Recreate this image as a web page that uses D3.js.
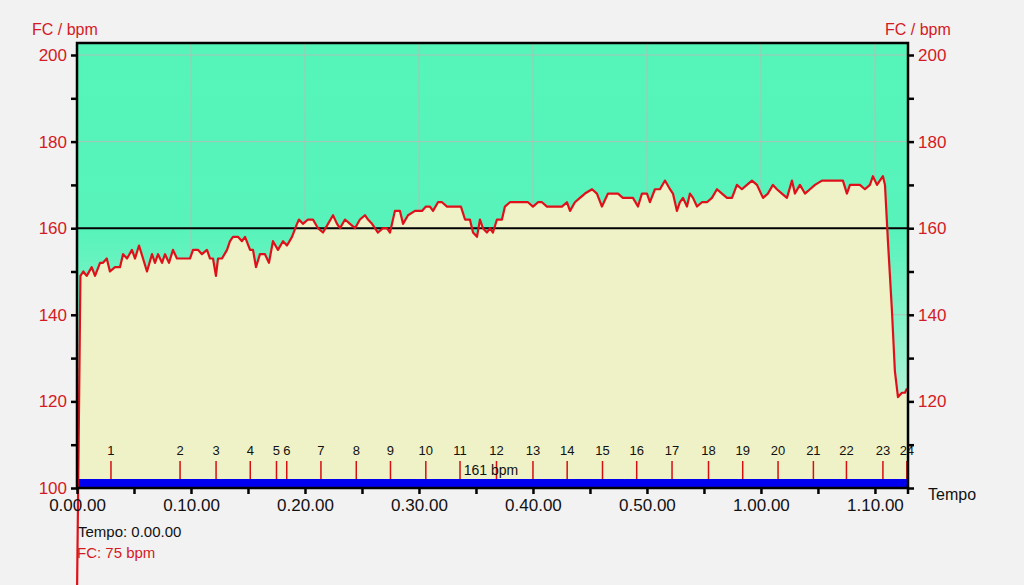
<!DOCTYPE html>
<html>
<head>
<meta charset="utf-8">
<script src="https://cdn.jsdelivr.net/npm/d3@7"></script>
<style>
  body { margin: 0; background: #f2f2f2; }
  svg text { font-family: "Liberation Sans", Arial, sans-serif; }
</style>
</head>
<body>
<div id="chart"></div>
<script>
// heart rate samples: time in minutes, bpm
var timeMin = [0, 0.3, 0.55, 0.85, 1.29, 1.58, 2.02, 2.28, 2.61, 2.89, 3.33, 3.77, 4.04, 4.39, 4.82, 5.09, 5.44, 5.79, 6.14, 6.58,
  6.84, 7.11, 7.46, 7.72, 8.07, 8.42, 8.77, 9.04, 9.47, 9.91, 10.18, 10.61, 10.96, 11.40, 11.67, 11.93, 12.19, 12.37, 12.72, 13.16,
  13.42, 13.68, 14.12, 14.47, 14.74, 15.18, 15.44, 15.70, 16.05, 16.49, 16.84, 17.19, 17.63, 18.07, 18.42, 18.86, 19.30, 19.47, 19.82, 20.26,
  20.70, 21.14, 21.58, 22.02, 22.46, 22.81, 23.07, 23.51, 23.95, 24.39, 24.82, 25.26, 25.53, 25.88, 26.14, 26.40, 26.84, 27.19, 27.46, 27.89,
  28.33, 28.60, 29.04, 29.65, 30.26, 30.61, 30.96, 31.23, 31.67, 32.02, 32.46, 32.89, 33.16, 33.68, 34.04, 34.47, 34.74, 35.09, 35.35, 35.61,
  35.96, 36.23, 36.49, 36.84, 37.28, 37.54, 37.98, 38.68, 39.56, 40.00, 40.44, 40.79, 41.23, 41.67, 42.11, 42.54, 42.98, 43.25, 43.68, 44.12,
  44.56, 45.18, 45.61, 46.05, 46.58, 47.46, 47.89, 48.25, 48.77, 49.21, 49.56, 50.00, 50.26, 50.70, 51.14, 51.58, 52.02, 52.28, 52.63, 52.89,
  53.16, 53.51, 53.77, 54.04, 54.39, 54.82, 55.26, 55.70, 56.14, 56.58, 57.02, 57.46, 57.89, 58.33, 58.77, 59.21, 59.65, 60.18, 60.61, 61.05,
  61.40, 61.84, 62.28, 62.72, 62.98, 63.42, 63.86, 64.30, 64.74, 65.35, 65.88, 66.67, 67.19, 67.54, 67.81, 68.25, 68.68, 69.12, 69.56, 69.82,
  70.18, 70.70, 70.88, 71.14, 71.49, 71.75, 72.02, 72.37, 72.63, 72.81];
var hrBpm = [75, 149, 150, 149, 151, 149, 152, 152, 153, 150, 151, 151, 154, 153, 155, 153, 156, 153, 150, 154,
  152, 154, 152, 154, 152, 155, 153, 153, 153, 153, 155, 155, 154, 155, 153, 153, 149, 153, 153, 155,
  157, 158, 158, 157, 158, 155, 155, 151, 154, 154, 152, 157, 155, 157, 156, 158, 161, 162, 161, 162,
  162, 160, 159, 161, 163, 161, 160, 162, 161, 160, 162, 163, 162, 161, 160, 159, 160, 160, 159, 164,
  164, 161, 163, 164, 164, 165, 165, 164, 166, 166, 165, 165, 165, 165, 162, 162, 159, 158, 162, 160,
  159, 160, 159, 162, 162, 165, 166, 166, 166, 165, 166, 166, 165, 165, 165, 165, 166, 164, 166, 167,
  168, 169, 168, 165, 168, 168, 167, 167, 167, 165, 168, 168, 166, 169, 169, 171, 169, 168, 164, 166,
  167, 165, 168, 167, 165, 166, 166, 167, 169, 168, 167, 167, 170, 169, 170, 171, 170, 167, 168, 170,
  169, 168, 167, 171, 168, 170, 168, 169, 170, 171, 171, 171, 171, 168, 170, 170, 170, 169, 170, 172,
  170, 172, 170, 157, 141, 127, 121, 122, 122, 123];

// laps (minutes)
var lapNames = ["1","2","3","4","5","6","7","8","9","10","11","12","13","14","15","16","17","18","19","20","21","22","23","24"];
var lapTimes = [2.98, 9.04, 12.2, 15.2, 17.5, 18.4, 21.4, 24.5, 27.5, 30.6, 33.6, 36.8, 40.0, 43.0, 46.1, 49.1, 52.2, 55.4, 58.4, 61.5, 64.6, 67.5, 70.7, 72.8];

var totalMin = 72.9;
var refLine = 160;
var avgLabel = "161 bpm";
var yTicks = [100, 120, 140, 160, 180, 200];

var data = timeMin.map(function(t, i) { return {t: t, hr: hrBpm[i]}; });

var W = 1024, H = 585;
var pLeft = 77, pRight = 908, pTop = 43, pBottom = 488;

var svg = d3.select("#chart").append("svg")
    .attr("width", W)
    .attr("height", H);

var x = d3.scaleLinear().domain([0, totalMin]).range([pLeft, pRight]);
var y = d3.scaleLinear().domain([100, 200]).range([pBottom, 55]);

var defs = svg.append("defs");
var grad = defs.append("linearGradient")
    .attr("id", "bg")
    .attr("x1", 0).attr("y1", 0).attr("x2", 0).attr("y2", 1);
grad.append("stop").attr("offset", "0%").attr("stop-color", "#55f5b9");
grad.append("stop").attr("offset", "42%").attr("stop-color", "#57f3bb");
grad.append("stop").attr("offset", "100%").attr("stop-color", "#dcf2e4");

defs.append("clipPath").attr("id", "plotclip")
  .append("rect")
    .attr("x", pLeft).attr("y", pTop)
    .attr("width", pRight - pLeft).attr("height", pBottom - pTop);

svg.append("rect")
    .attr("x", pLeft).attr("y", pTop)
    .attr("width", pRight - pLeft).attr("height", pBottom - pTop)
    .attr("fill", "url(#bg)");

// grid
var grid = svg.append("g").attr("stroke", "#a9c4b8").attr("stroke-width", 1);
d3.range(10, totalMin, 10).forEach(function(m) {
    grid.append("line")
        .attr("x1", x(m)).attr("x2", x(m))
        .attr("y1", pTop).attr("y2", pBottom);
});
yTicks.slice(1).forEach(function(v) {
    grid.append("line")
        .attr("x1", pLeft).attr("x2", pRight)
        .attr("y1", y(v)).attr("y2", y(v));
});

// filled area under the curve
var area = d3.area()
    .x(function(d) { return x(d.t); })
    .y0(pBottom)
    .y1(function(d) { return y(d.hr); });

svg.append("path")
    .datum(data)
    .attr("clip-path", "url(#plotclip)")
    .attr("fill", "#eff2c6")
    .attr("d", area);

// reference line
svg.append("line")
    .attr("x1", pLeft).attr("x2", pRight)
    .attr("y1", y(refLine)).attr("y2", y(refLine))
    .attr("stroke", "#000")
    .attr("stroke-width", 2);

// blue band at the bottom
svg.append("rect")
    .attr("x", pLeft).attr("y", pBottom - 9)
    .attr("width", pRight - pLeft).attr("height", 8)
    .attr("fill", "#0000f0");

// lap markers
var laps = svg.append("g");
lapTimes.forEach(function(t, i) {
    laps.append("line")
        .attr("x1", x(t)).attr("x2", x(t))
        .attr("y1", 461).attr("y2", pBottom - 9)
        .attr("stroke", "#d41010")
        .attr("stroke-width", 1.5);
    laps.append("text")
        .attr("x", x(t)).attr("y", 455)
        .attr("text-anchor", "middle")
        .style("font-size", "13px")
        .attr("fill", "#111")
        .text(lapNames[i]);
});

svg.append("text")
    .attr("x", 491).attr("y", 475)
    .attr("text-anchor", "middle")
    .style("font-size", "14px")
    .attr("fill", "#111")
    .text(avgLabel);

// heart rate line (not clipped, the first sample falls below the axis)
var line = d3.line()
    .x(function(d) { return x(d.t); })
    .y(function(d) { return y(d.hr); });

svg.append("path")
    .datum(data)
    .attr("fill", "none")
    .attr("stroke", "#e0101a")
    .attr("stroke-width", 2.2)
    .attr("stroke-linejoin", "round")
    .attr("d", line);

// frame
svg.append("rect")
    .attr("x", pLeft).attr("y", pTop)
    .attr("width", pRight - pLeft).attr("height", pBottom - pTop)
    .attr("fill", "none")
    .attr("stroke", "#000")
    .attr("stroke-width", 2.5);

// y axes (right one has no label at 100, "Tempo" sits there)
var yAxisL = d3.axisLeft(y).tickValues(d3.range(100, 201, 10)).tickSize(6).tickPadding(4)
    .tickFormat(function(d) { return d % 20 == 0 ? d : ""; });
var yAxisR = d3.axisRight(y).tickValues(d3.range(100, 201, 10)).tickSize(6).tickPadding(4)
    .tickFormat(function(d) { return (d % 20 == 0 && d > 100) ? d : ""; });

var gL = svg.append("g").attr("transform", "translate(" + pLeft + ",0)").call(yAxisL);
var gR = svg.append("g").attr("transform", "translate(" + pRight + ",0)").call(yAxisR);
[gL, gR].forEach(function(g) {
    g.select(".domain").remove();
    g.selectAll(".tick line").attr("stroke", "#000").attr("stroke-width", 2.5);
    g.selectAll(".tick text").attr("fill", "#d41a24").style("font-size", "17px")
        .style("font-family", "Liberation Sans, Arial, sans-serif");
});

svg.append("text").attr("x", 32).attr("y", 35)
    .attr("fill", "#d41a24").style("font-size", "16px").text("FC / bpm");
svg.append("text").attr("x", 885).attr("y", 35)
    .attr("fill", "#d41a24").style("font-size", "16px").text("FC / bpm");

// x axis
function fmtTime(m) {
    var h = Math.floor(m / 60), mm = m % 60;
    return h + "." + (mm < 10 ? "0" : "") + mm + ".00";
}
var xAxis = d3.axisBottom(x).tickValues(d3.range(0, totalMin, 5)).tickSize(6).tickPadding(5)
    .tickFormat(function(d) { return d % 10 == 0 ? fmtTime(d) : ""; });
var gX = svg.append("g").attr("transform", "translate(0," + pBottom + ")").call(xAxis);
gX.select(".domain").remove();
gX.selectAll(".tick line").attr("stroke", "#000").attr("stroke-width", 2.5);
gX.selectAll(".tick text").attr("fill", "#111").style("font-size", "17px")
    .style("font-family", "Liberation Sans, Arial, sans-serif");
gX.append("line")
    .attr("x1", pRight).attr("x2", pRight)
    .attr("y1", 0).attr("y2", 6)
    .attr("stroke", "#000").attr("stroke-width", 2.5);

svg.append("text").attr("x", 928).attr("y", 500)
    .attr("fill", "#111").style("font-size", "16px").text("Tempo");

// cursor readout
svg.append("text").attr("x", 78).attr("y", 537)
    .attr("fill", "#111").style("font-size", "15px").text("Tempo: 0.00.00");
svg.append("text").attr("x", 77).attr("y", 558)
    .attr("fill", "#d41a24").style("font-size", "15px").text("FC: " + hrBpm[0] + " bpm");
</script>
</body>
</html>
